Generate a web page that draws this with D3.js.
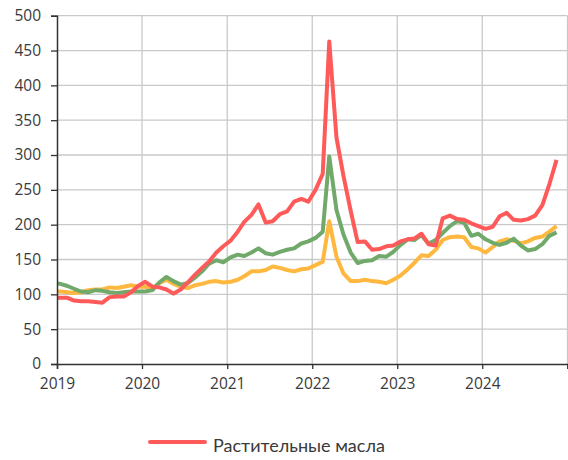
<!DOCTYPE html>
<html>
<head>
<meta charset="utf-8">
<script src="https://cdn.jsdelivr.net/npm/d3@7"></script>
<style>
  html, body { margin: 0; padding: 0; background: #fff; }
  svg { display: block; }
  .tick text { font-family: "Open Sans", "Liberation Sans", sans-serif; }
</style>
</head>
<body>
<svg id="chart" width="568" height="460"></svg>
<script>
// Monthly index values (mid-month), December 2018 to November 2024
const startMonth = new Date(2018, 11, 1);
const endMonth = new Date(2024, 10, 1);

const vegOils = [
  95,
  95, 95, 91, 90, 90, 89, 88, 96, 97, 97, 103, 112,
  118, 111, 110, 107, 101, 107, 117, 128, 138, 147, 160, 169,
  177, 190, 204, 214, 229, 203, 205, 215, 219, 233, 237, 233,
  250, 273, 463, 325, 270, 220, 175, 176, 164, 165, 169, 170,
  176, 179, 180, 187, 172, 170, 209, 213, 208, 207, 202, 198,
  194, 197, 212, 217, 207, 206, 208, 213, 228, 258, 293
];

const greenSeries = [
  117,
  115, 112, 108, 104, 103, 106, 105, 103, 102, 103, 104, 104,
  104, 106, 117, 125, 119, 114, 116, 124, 133, 144, 149, 146,
  153, 157, 155, 160, 166, 159, 157, 161, 164, 166, 173, 176,
  181, 190, 298, 221, 186, 160, 145, 148, 149, 155, 154, 161,
  171, 179, 178, 185, 173, 178, 188, 198, 205, 203, 184, 187,
  179, 174, 171, 174, 180, 170, 163, 165, 172, 184, 189
];

const yellowSeries = [
  104,
  104, 103, 102, 103, 106, 107, 107, 110, 109, 111, 113, 111,
  111, 109, 116, 121, 115, 111, 109, 113, 115, 118, 119, 117,
  118, 121, 126, 133, 133, 135, 140, 138, 135, 133, 136, 137,
  142, 147, 205, 154, 130, 119, 119, 121, 119, 118, 116, 121,
  127, 136, 145, 156, 155, 164, 178, 182, 183, 182, 168, 166,
  160, 168, 176, 179, 177, 173, 176, 181, 183, 190, 198
];

const yearTicks = [2019, 2020, 2021, 2022, 2023, 2024, 2025];
const yearLabels = ["2019", "2020", "2021", "2022", "2023", "2024", ""];
const valueTicks = [0, 50, 100, 150, 200, 250, 300, 350, 400, 450, 500];
const legendLabel = "Растительные масла";

// each value sits in the middle of its month
const months = d3.timeMonth.range(startMonth, d3.timeMonth.offset(endMonth, 1))
  .map(d => d3.timeDay.offset(d, 14));

const svg = d3.select("#chart");
const plotLeft = 57, plotRight = 567.5, plotTop = 15.7, plotBottom = 364;

const x = d3.scaleTime()
  .domain([new Date(2019, 0, 1), new Date(2025, 0, 1)])
  .range([plotLeft, plotRight]);
const y = d3.scaleLinear().domain([0, 500]).range([plotBottom, plotTop]);

const gridColor = "#c9c9c9";
const axisColor = "#333";
const textColor = "#3a3a3a";

svg.append("defs").append("clipPath").attr("id", "plot-clip")
  .append("rect")
  .attr("x", plotLeft).attr("y", 0)
  .attr("width", plotRight - plotLeft + 2).attr("height", plotBottom);

// horizontal grid
svg.append("g")
  .selectAll("line")
  .data(valueTicks.filter(v => v > 0))
  .join("line")
  .attr("x1", plotLeft).attr("x2", plotRight)
  .attr("y1", d => y(d)).attr("y2", d => y(d))
  .attr("stroke", gridColor).attr("stroke-width", 1.3);

// vertical grid
svg.append("g")
  .selectAll("line")
  .data(yearTicks.slice(1))
  .join("line")
  .attr("x1", d => x(new Date(d, 0, 1))).attr("x2", d => x(new Date(d, 0, 1)))
  .attr("y1", plotTop).attr("y2", plotBottom)
  .attr("stroke", gridColor).attr("stroke-width", 1.3);

// series lines
const line = d3.line()
  .x((d, i) => x(months[i]))
  .y(d => y(d));

const series = [
  { values: yellowSeries, color: "#FFB83F" },
  { values: greenSeries, color: "#71A96B" },
  { values: vegOils, color: "#FF5A5A" }
];

svg.append("g")
  .attr("clip-path", "url(#plot-clip)")
  .selectAll("path")
  .data(series)
  .join("path")
  .attr("d", d => line(d.values))
  .attr("fill", "none")
  .attr("stroke", d => d.color)
  .attr("stroke-width", 4)
  .attr("stroke-linejoin", "round");

// y axis
const yAxis = svg.append("g")
  .attr("transform", `translate(${plotLeft},0)`)
  .call(d3.axisLeft(y).tickValues(valueTicks).tickSize(6).tickPadding(10));
yAxis.select(".domain").attr("stroke", axisColor).attr("stroke-width", 1.5);
yAxis.selectAll(".tick line").attr("stroke", axisColor).attr("stroke-width", 1.3);
yAxis.selectAll(".tick text")
  .attr("fill", textColor).attr("font-size", 15.5);

// x axis
const xAxis = svg.append("g")
  .attr("transform", `translate(0,${plotBottom})`)
  .call(d3.axisBottom(x)
    .tickValues(yearTicks.map(yr => new Date(yr, 0, 1)))
    .tickFormat((d, i) => yearLabels[i])
    .tickSize(5).tickPadding(9));
xAxis.select(".domain").attr("stroke", axisColor).attr("stroke-width", 1.5);
xAxis.selectAll(".tick line").attr("stroke", axisColor).attr("stroke-width", 1.3);
xAxis.selectAll(".tick text")
  .attr("fill", textColor).attr("font-size", 15.5);

// legend
const legend = svg.append("g");
legend.append("line")
  .attr("x1", 150).attr("x2", 205)
  .attr("y1", 442).attr("y2", 442)
  .attr("stroke", "#FF5A5A").attr("stroke-width", 4)
  .attr("stroke-linecap", "round");
legend.append("text")
  .attr("x", 213).attr("y", 452)
  .attr("font-family", "Lato, 'Open Sans', sans-serif")
  .attr("font-size", 18)
  .attr("fill", textColor)
  .text(legendLabel);
</script>
</body>
</html>
